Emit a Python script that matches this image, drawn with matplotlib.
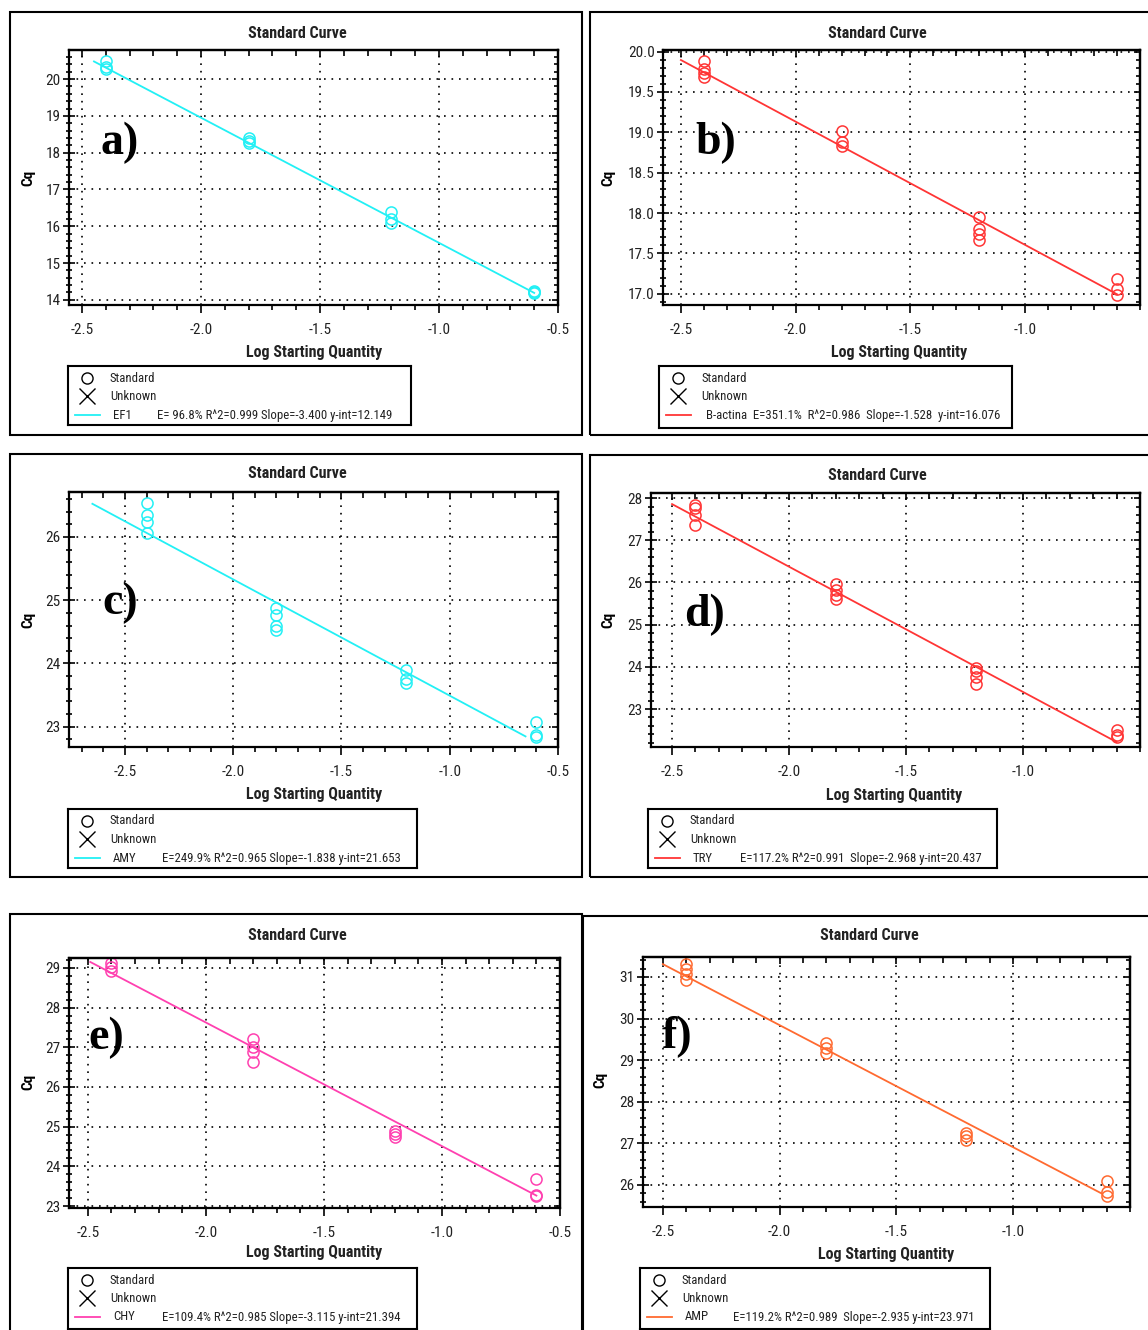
import matplotlib.pyplot as plt
from matplotlib.lines import Line2D
from matplotlib.patches import Rectangle
from matplotlib.ticker import MultipleLocator, FormatStrFormatter
import numpy as np

W, H = 1148, 1330
SANS = ["Roboto Condensed", "PT Sans Narrow", "Archivo Narrow", "Liberation Sans", "DejaVu Sans"]
SERIF = ["Liberation Serif", "DejaVu Serif"]

log_qty = [-2.4, -1.8, -1.2, -0.6]

# replicate Cq values per dilution
cq_ef1 = [[20.48, 20.33, 20.27], [18.39, 18.32, 18.25],
          [16.40, 16.20, 16.08], [14.25, 14.22, 14.18]]
cq_bact = [[19.88, 19.79, 19.73, 19.68], [19.02, 18.88, 18.83],
           [17.95, 17.80, 17.74, 17.66], [17.18, 17.06, 16.98]]
cq_amy = [[26.53, 26.35, 26.24, 26.06], [24.88, 24.77, 24.59, 24.53],
          [23.90, 23.75, 23.69], [23.07, 22.87, 22.84]]
cq_try = [[27.84, 27.76, 27.61, 27.37], [25.96, 25.81, 25.71, 25.61],
          [23.98, 23.91, 23.75, 23.59], [22.50, 22.39, 22.33]]
cq_chy = [[29.12, 29.02, 28.91], [27.22, 27.01, 26.88, 26.63],
          [24.89, 24.81, 24.75], [23.69, 23.28, 23.24]]
cq_amp = [[31.30, 31.20, 31.08, 30.92], [29.41, 29.29, 29.17],
          [27.25, 27.17, 27.09], [26.10, 25.82, 25.74]]

genes = ["EF1", "B-actina", "AMY", "TRY", "CHY", "AMP"]
slopes = [-3.400, -1.528, -1.838, -2.968, -3.115, -2.935]
intercepts = [12.149, 16.076, 21.653, 20.437, 21.394, 23.971]
efficiency = [96.8, 351.1, 249.9, 117.2, 109.4, 119.2]
r_squared = [0.999, 0.986, 0.965, 0.991, 0.985, 0.989]
fit_span = [(-2.45, -0.6), (-2.5, -0.6), (-2.65, -0.65),
            (-2.5, -0.6), (-2.49, -0.6), (-2.5, -0.62)]
stats_text = [
    "E= 96.8% R^2=0.999 Slope=-3.400 y-int=12.149",
    "B-actina  E=351.1%  R^2=0.986  Slope=-1.528  y-int=16.076",
    "E=249.9% R^2=0.965 Slope=-1.838 y-int=21.653",
    "E=117.2% R^2=0.991  Slope=-2.968 y-int=20.437",
    "E=109.4% R^2=0.985 Slope=-3.115 y-int=21.394",
    "E=119.2% R^2=0.989  Slope=-2.935 y-int=23.971",
]
letters = ["a)", "b)", "c)", "d)", "e)", "f)"]
colors = ["#22F0F5", "#FF3535", "#22F0F5", "#FF3535", "#FF40B0", "#FF6A30"]
all_cq = [cq_ef1, cq_bact, cq_amy, cq_try, cq_chy, cq_amp]

# layout of each panel in pixels
panels = [
    dict(frame=(10, 12, 582, 435), ax=(69, 50, 558, 305),
         xlim=(-2.555, -0.5), ylim=(13.86, 20.79), ymaj=1, fmt="%d",
         xt=[-2.5, -2.0, -1.5, -1.0, -0.5], title=(297, 33), xl=(314, 352),
         yl=(28, 178), letter=(120, 143), leg=(68, 366, 411, 425), name_x=113, stat_x=157),
    dict(frame=(590, 12, 1152, 435), ax=(663, 50, 1140, 305),
         xlim=(-2.578, -0.5), ylim=(16.86, 20.02), ymaj=0.5, fmt="%.1f",
         xt=[-2.5, -2.0, -1.5, -1.0], title=(877, 33), xl=(899, 352),
         yl=(608, 178), letter=(716, 143), leg=(659, 366, 1012, 428), name_x=None, stat_x=706),
    dict(frame=(10, 454, 582, 877), ax=(69, 492, 558, 747),
         xlim=(-2.758, -0.5), ylim=(22.68, 26.71), ymaj=1, fmt="%d",
         xt=[-2.5, -2.0, -1.5, -1.0, -0.5], title=(297, 474), xl=(314, 794),
         yl=(28, 620), letter=(120, 603), leg=(68, 809, 417, 868), name_x=113, stat_x=162),
    dict(frame=(590, 455, 1152, 877), ax=(651, 493, 1140, 747),
         xlim=(-2.59, -0.5), ylim=(22.1, 28.12), ymaj=1, fmt="%d",
         xt=[-2.5, -2.0, -1.5, -1.0], title=(877, 476), xl=(894, 795),
         yl=(608, 620), letter=(704, 615), leg=(648, 809, 997, 868), name_x=693, stat_x=740),
    dict(frame=(10, 914, 582, 1340), ax=(69, 958, 560, 1208),
         xlim=(-2.58, -0.5), ylim=(22.95, 29.25), ymaj=1, fmt="%d",
         xt=[-2.5, -2.0, -1.5, -1.0, -0.5], title=(297, 935), xl=(314, 1253),
         yl=(28, 1082), letter=(106, 1038), leg=(68, 1268, 417, 1329), name_x=113, stat_x=162),
    dict(frame=(583, 916, 1152, 1340), ax=(643, 957, 1130, 1207),
         xlim=(-2.585, -0.5), ylim=(25.47, 31.48), ymaj=1, fmt="%d",
         xt=[-2.5, -2.0, -1.5, -1.0], title=(869, 936), xl=(886, 1254),
         yl=(600, 1080), letter=(677, 1037), leg=(640, 1268, 990, 1329), name_x=685, stat_x=733),
]


def rect(x0, y0, x1, y1):
    return [x0 / W, 1 - y1 / H, (x1 - x0) / W, (y1 - y0) / H]


def ftext(x, y, s, **kw):
    fig.text(x / W, 1 - y / H, s, **kw)


fig = plt.figure(figsize=(W / 100, H / 100), dpi=100)
fig.patch.set_facecolor("white")

for i, p in enumerate(panels):
    col = colors[i]
    # outer frame
    fx0, fy0, fx1, fy1 = p["frame"]
    fig.patches.append(Rectangle((fx0 / W, 1 - fy1 / H), (fx1 - fx0) / W, (fy1 - fy0) / H,
                                 transform=fig.transFigure, fill=False,
                                 edgecolor="black", linewidth=1.5))

    ax = fig.add_axes(rect(*p["ax"]))
    for xv, reps in zip(log_qty, all_cq[i]):
        ax.plot([xv] * len(reps), reps, linestyle="none", marker="o", markersize=8,
                markerfacecolor="none", markeredgecolor=col, markeredgewidth=1.1)
    xs = np.array(fit_span[i])
    ax.plot(xs, slopes[i] * xs + intercepts[i], color=col, linewidth=1.3)

    ax.set_xlim(*p["xlim"])
    ax.set_ylim(*p["ylim"])
    ax.set_xticks(p["xt"])
    ax.xaxis.set_minor_locator(MultipleLocator(0.1))
    ax.yaxis.set_major_locator(MultipleLocator(p["ymaj"]))
    ax.yaxis.set_minor_locator(MultipleLocator(p["ymaj"] / 5))
    ax.xaxis.set_major_formatter(FormatStrFormatter("%.1f"))
    ax.yaxis.set_major_formatter(FormatStrFormatter(p["fmt"]))
    ax.grid(True, which="major", color="black", linestyle=(0, (1, 3.5)), linewidth=1.2)
    ax.set_axisbelow(True)
    for s in ax.spines.values():
        s.set_linewidth(1.6)
    ax.tick_params(which="both", top=True, right=True, labelsize=11,
                   colors="black", labelcolor="#222222", width=1.2)
    # left ticks cross the spine, bottom ticks hang outside, top/right point inward
    ax.tick_params(axis="y", which="both", direction="inout")
    ax.tick_params(axis="y", which="major", length=8, pad=2)
    ax.tick_params(axis="y", which="minor", length=5)
    ax.tick_params(axis="x", which="both", direction="out")
    ax.tick_params(axis="x", which="major", length=6, pad=7)
    ax.tick_params(axis="x", which="minor", length=3.5)
    ax.yaxis.set_tick_params(which="both", right=False)
    ax.xaxis.set_tick_params(which="both", top=False)
    sec_x = ax.secondary_xaxis("top")
    sec_x.set_xticks(p["xt"])
    sec_x.xaxis.set_minor_locator(MultipleLocator(0.1))
    sec_x.tick_params(which="both", direction="in", labeltop=False, width=1.2)
    sec_x.tick_params(which="major", length=5)
    sec_x.tick_params(which="minor", length=4)
    sec_x.spines["top"].set_linewidth(1.6)
    sec_y = ax.secondary_yaxis("right")
    sec_y.yaxis.set_major_locator(MultipleLocator(p["ymaj"]))
    sec_y.yaxis.set_minor_locator(MultipleLocator(p["ymaj"] / 5))
    sec_y.tick_params(which="both", direction="in", labelright=False, width=1.2)
    sec_y.tick_params(which="major", length=4)
    sec_y.tick_params(which="minor", length=3)
    sec_y.spines["right"].set_linewidth(1.6)
    for lab in ax.get_xticklabels() + ax.get_yticklabels():
        lab.set_family(SANS)

    ftext(*p["title"], "Standard Curve", ha="center", va="center",
          fontsize=11.5, fontweight="bold", family=SANS, color="#222222")
    ftext(*p["xl"], "Log Starting Quantity", ha="center", va="center",
          fontsize=11.5, fontweight="bold", family=SANS, color="#222222")
    ftext(*p["yl"], "Cq", ha="center", va="center", rotation=90,
          fontsize=11, fontweight="bold", family=SANS)
    ftext(*p["letter"], letters[i], ha="center", va="center",
          fontsize=33, fontweight="bold", family=SERIF)

    # legend box
    lx0, ly0, lx1, ly1 = p["leg"]
    lax = fig.add_axes(rect(lx0, ly0, lx1, ly1))
    lax.set_xlim(lx0, lx1)
    lax.set_ylim(ly1, ly0)
    lax.set_xticks([])
    lax.set_yticks([])
    for s in lax.spines.values():
        s.set_linewidth(1.5)
    r1, r2, r3 = ly0 + 12, ly0 + 30, ly0 + 49
    lax.plot(lx0 + 19, r1, marker="o", markersize=8, markerfacecolor="none",
             markeredgecolor="black", markeredgewidth=1.0)
    lax.plot(lx0 + 19, r2, marker="x", markersize=11, color="black", markeredgewidth=1.0)
    lax.add_line(Line2D([lx0 + 7, lx0 + 32], [r3, r3], color=col, linewidth=1.3))
    lkw = dict(va="center", ha="left", fontsize=9.2, family=SANS, color="#222222")
    lax.text(lx0 + 42, r1, "Standard", **lkw)
    lax.text(lx0 + 42, r2, "Unknown", **lkw)
    if p["name_x"] is not None:
        lax.text(p["name_x"], r3, genes[i], **lkw)
    lax.text(p["stat_x"], r3, stats_text[i], **lkw)

fig.savefig("out.png", dpi=100, facecolor="white")
